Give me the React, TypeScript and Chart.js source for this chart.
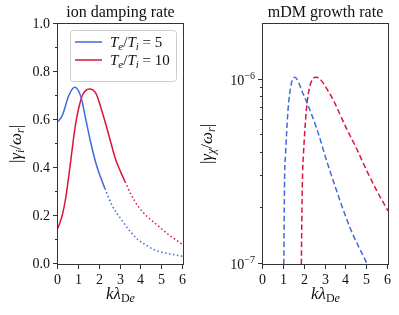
import React, { useEffect, useRef } from 'react';
import { Chart, registerables } from 'chart.js';

Chart.register(...registerables);

const FONT = '"Liberation Serif", "Times New Roman", serif';
const BLUE = '#4169e1';
const RED = '#dc143c';
const FRAME = '#333333';

// ---- left panel: ion damping rate |gamma_i / omega_r| ----
const blueSolidK = [0, 0.21, 0.53, 0.8, 1.1, 1.34, 1.58, 1.82, 2.05, 2.25];
const blueSolidG = [0.593, 0.62, 0.704, 0.736, 0.697, 0.6, 0.503, 0.42, 0.36, 0.315];
const blueDotK = [2.25, 2.6, 3.06, 3.5, 3.86, 4.3, 4.66, 5.3, 6.0];
const blueDotG = [0.315, 0.243, 0.183, 0.132, 0.1, 0.075, 0.058, 0.043, 0.032];
const redSolidK = [0, 0.21, 0.37, 0.53, 0.69, 0.85, 1.01, 1.18, 1.5, 1.82, 2.14, 2.46, 2.75, 3.0, 3.22];
const redSolidG = [0.149, 0.205, 0.275, 0.375, 0.485, 0.586, 0.655, 0.704, 0.729, 0.711, 0.628, 0.53, 0.44, 0.385, 0.343];
const redDotK = [3.22, 3.5, 3.86, 4.25, 4.66, 5.3, 6.0];
const redDotG = [0.343, 0.29, 0.239, 0.2, 0.17, 0.123, 0.08];

// ---- right panel: mDM growth rate |gamma_chi / omega_r| ----
const blueDashK = [1.0, 1.02, 1.04, 1.08, 1.2, 1.36, 1.52, 1.92, 2.56, 3.1, 4.16, 5.0];
const blueDashG = [1e-7, 2.0e-7, 3.1e-7, 3.9e-7, 6.8e-7, 9.5e-7, 1.03e-6, 8.4e-7, 5.5e-7, 3.5e-7, 1.59e-7, 1e-7];
const redDashK = [1.84, 1.87, 1.9, 1.94, 2.08, 2.24, 2.56, 3.2, 4.0, 4.5, 5.0, 5.5, 6.0];
const redDashG = [1e-7, 2.0e-7, 3.1e-7, 3.9e-7, 6.8e-7, 9.1e-7, 1.03e-6, 8.4e-7, 5.45e-7, 4.2e-7, 3.17e-7, 2.45e-7, 1.94e-7];

const xTicks = [0, 1, 2, 3, 4, 5, 6];
const leftYMajor = [0, 0.2, 0.4, 0.6, 0.8, 1.0];
const leftYMinor = [0.1, 0.3, 0.5, 0.7, 0.9];
const leftYLabels = ['0.0', '0.2', '0.4', '0.6', '0.8', '1.0'];
const rightYMajor = [1e-7, 1e-6];
const rightYExp = ['\u22127', '\u22126'];
const rightYMinor = [2e-7, 3e-7, 4e-7, 5e-7, 6e-7, 7e-7, 8e-7, 9e-7];

const legendLabels = [
  { color: BLUE, value: '5' },
  { color: RED, value: '10' },
];

type Seg = { t: string; it?: boolean; s: number; dy?: number };

function segFont(g: Seg) {
  return `${g.it ? 'italic ' : ''}${g.s}px ${FONT}`;
}

function drawRich(ctx: CanvasRenderingContext2D, segs: Seg[], x: number, y: number, align: 'left' | 'center' | 'right') {
  let total = 0;
  const widths = segs.map((g) => {
    ctx.font = segFont(g);
    const w = ctx.measureText(g.t).width;
    total += w;
    return w;
  });
  let cx = align === 'left' ? x : align === 'center' ? x - total / 2 : x - total;
  ctx.textAlign = 'left';
  ctx.textBaseline = 'alphabetic';
  segs.forEach((g, i) => {
    ctx.font = segFont(g);
    ctx.fillText(g.t, cx, y + (g.dy || 0));
    cx += widths[i];
  });
}

function pts(k: number[], g: number[]) {
  return k.map((v, i) => ({ x: v, y: g[i] }));
}

function drawFrameAndXAxis(chart: any, title: string) {
  const { ctx, chartArea, scales } = chart;
  const { left, right, top, bottom } = chartArea;
  ctx.save();
  ctx.strokeStyle = FRAME;
  ctx.lineWidth = 1;
  ctx.strokeRect(Math.round(left) - 0.5, Math.round(top) - 0.5, Math.round(right - left) + 1, Math.round(bottom - top) + 1);
  ctx.fillStyle = '#111';
  xTicks.forEach((v) => {
    const px = Math.round(scales.x.getPixelForValue(v)) - 0.5;
    ctx.beginPath();
    ctx.moveTo(px, bottom + 0.5);
    ctx.lineTo(px, bottom + 5);
    ctx.stroke();
    ctx.font = `14px ${FONT}`;
    ctx.textAlign = 'center';
    ctx.textBaseline = 'alphabetic';
    ctx.fillText(String(v), px, bottom + 20);
  });
  const cx = (left + right) / 2;
  drawRich(ctx, [
    { t: 'k', it: true, s: 17 },
    { t: '\u03bb', it: true, s: 17 },
    { t: 'D', s: 12, dy: 3 },
    { t: 'e', it: true, s: 12, dy: 3 },
  ], cx, bottom + 35, 'center');
  ctx.font = `16px ${FONT}`;
  ctx.textAlign = 'center';
  ctx.textBaseline = 'alphabetic';
  ctx.fillText(title, cx, top - 7);
  ctx.restore();
}

function drawYLabel(ctx: CanvasRenderingContext2D, segs: Seg[], x: number, y: number) {
  ctx.save();
  ctx.translate(x, y);
  ctx.rotate(-Math.PI / 2);
  drawRich(ctx, segs, 0, 0, 'center');
  ctx.restore();
}

const leftDecor = {
  id: 'leftDecor',
  afterDraw(chart: any) {
    const { ctx, chartArea, scales } = chart;
    const { left, top, bottom } = chartArea;
    drawFrameAndXAxis(chart, 'ion damping rate');
    ctx.save();
    ctx.strokeStyle = FRAME;
    ctx.fillStyle = '#111';
    ctx.lineWidth = 1;
    leftYMajor.forEach((v, i) => {
      const py = Math.round(scales.y.getPixelForValue(v)) - 0.5;
      ctx.beginPath();
      ctx.moveTo(left - 0.5, py);
      ctx.lineTo(left - 5, py);
      ctx.stroke();
      ctx.font = `14px ${FONT}`;
      ctx.textAlign = 'right';
      ctx.textBaseline = 'middle';
      ctx.fillText(leftYLabels[i], left - 8, py + 1);
    });
    leftYMinor.forEach((v) => {
      const py = Math.round(scales.y.getPixelForValue(v)) - 0.5;
      ctx.beginPath();
      ctx.moveTo(left - 0.5, py);
      ctx.lineTo(left - 3, py);
      ctx.stroke();
    });
    drawYLabel(ctx, [
      { t: '|', s: 17 },
      { t: '\u03b3', it: true, s: 17 },
      { t: 'i', it: true, s: 12, dy: 3 },
      { t: '/', s: 17 },
      { t: '\u03c9', it: true, s: 17 },
      { t: 'r', it: true, s: 12, dy: 3 },
      { t: '|', s: 17 },
    ], 21, (top + bottom) / 2);

    const lx = 70.5, ly = 30.5, lw = 106, lh = 51, r = 3;
    ctx.beginPath();
    ctx.moveTo(lx + r, ly);
    ctx.lineTo(lx + lw - r, ly);
    ctx.arcTo(lx + lw, ly, lx + lw, ly + r, r);
    ctx.lineTo(lx + lw, ly + lh - r);
    ctx.arcTo(lx + lw, ly + lh, lx + lw - r, ly + lh, r);
    ctx.lineTo(lx + r, ly + lh);
    ctx.arcTo(lx, ly + lh, lx, ly + lh - r, r);
    ctx.lineTo(lx, ly + r);
    ctx.arcTo(lx, ly, lx + r, ly, r);
    ctx.closePath();
    ctx.fillStyle = 'rgba(255,255,255,0.8)';
    ctx.fill();
    ctx.strokeStyle = '#cccccc';
    ctx.stroke();
    legendLabels.forEach((L, i) => {
      const yy = 42 + i * 18;
      ctx.strokeStyle = L.color;
      ctx.lineWidth = 1.5;
      ctx.beginPath();
      ctx.moveTo(75, yy);
      ctx.lineTo(102, yy);
      ctx.stroke();
      ctx.fillStyle = '#111';
      drawRich(ctx, [
        { t: 'T', it: true, s: 15 },
        { t: 'e', it: true, s: 11, dy: 2.5 },
        { t: '/', s: 15 },
        { t: 'T', it: true, s: 15 },
        { t: 'i', it: true, s: 11, dy: 2.5 },
        { t: ' = ' + L.value, s: 15 },
      ], 110, yy + 5, 'left');
    });
    ctx.restore();
  },
};

const rightDecor = {
  id: 'rightDecor',
  afterDraw(chart: any) {
    const { ctx, chartArea, scales } = chart;
    const { left, top, bottom } = chartArea;
    drawFrameAndXAxis(chart, 'mDM growth rate');
    ctx.save();
    ctx.strokeStyle = FRAME;
    ctx.fillStyle = '#111';
    ctx.lineWidth = 1;
    rightYMajor.forEach((v, i) => {
      const py = Math.round(scales.y.getPixelForValue(v)) - 0.5;
      ctx.beginPath();
      ctx.moveTo(left - 0.5, py);
      ctx.lineTo(left - 5, py);
      ctx.stroke();
      drawRich(ctx, [
        { t: '10', s: 14 },
        { t: rightYExp[i], s: 10, dy: -6 },
      ], left - 8, py + 5, 'right');
    });
    rightYMinor.forEach((v) => {
      const py = Math.round(scales.y.getPixelForValue(v)) - 0.5;
      ctx.beginPath();
      ctx.moveTo(left - 0.5, py);
      ctx.lineTo(left - 3, py);
      ctx.stroke();
    });
    drawYLabel(ctx, [
      { t: '|', s: 17 },
      { t: '\u03b3', it: true, s: 17 },
      { t: '\u03c7', it: true, s: 12, dy: 3 },
      { t: '/', s: 17 },
      { t: '\u03c9', it: true, s: 17 },
      { t: 'r', it: true, s: 12, dy: 3 },
      { t: '|', s: 17 },
    ], 12, (top + bottom) / 2);
    ctx.restore();
  },
};

function lineDs(k: number[], g: number[], color: string, dash: number[]) {
  return {
    data: pts(k, g),
    borderColor: color,
    borderWidth: 1.5,
    borderDash: dash,
    pointRadius: 0,
    fill: false,
    cubicInterpolationMode: 'monotone' as const,
  };
}

export default function App() {
  const leftRef = useRef<HTMLCanvasElement>(null);
  const rightRef = useRef<HTMLCanvasElement>(null);

  useEffect(() => {
    const left = new Chart(leftRef.current!, {
      type: 'line',
      data: {
        datasets: [
          lineDs(blueSolidK, blueSolidG, BLUE, []),
          lineDs(blueDotK, blueDotG, BLUE, [1.5, 2.5]),
          lineDs(redSolidK, redSolidG, RED, []),
          lineDs(redDotK, redDotG, RED, [1.5, 2.5]),
        ] as any,
      },
      options: {
        animation: false,
        responsive: false,
        events: [],
        layout: { padding: { left: 58, top: 24, right: 17, bottom: 51 } },
        scales: {
          x: { type: 'linear', min: 0, max: 6, display: false },
          y: { type: 'linear', min: 0, max: 1, display: false },
        },
        plugins: { legend: { display: false }, tooltip: { enabled: false } },
      },
      plugins: [leftDecor],
    });
    const right = new Chart(rightRef.current!, {
      type: 'line',
      data: {
        datasets: [
          lineDs(blueDashK, blueDashG, BLUE, [5.5, 3]),
          lineDs(redDashK, redDashG, RED, [5.5, 3]),
        ] as any,
      },
      options: {
        animation: false,
        responsive: false,
        events: [],
        layout: { padding: { left: 63, top: 24, right: 11, bottom: 51 } },
        scales: {
          x: { type: 'linear', min: 0, max: 6, display: false },
          y: { type: 'logarithmic', min: 1e-7, max: 2e-6, display: false },
        },
        plugins: { legend: { display: false }, tooltip: { enabled: false } },
      },
      plugins: [rightDecor],
    });
    return () => {
      left.destroy();
      right.destroy();
    };
  }, []);

  return (
    <div style={{ position: 'absolute', left: 0, top: 0, width: 399, height: 315, background: '#fff' }}>
      <canvas ref={leftRef} width={200} height={315} style={{ position: 'absolute', left: 0, top: 0, width: 200, height: 315 }} />
      <canvas ref={rightRef} width={199} height={315} style={{ position: 'absolute', left: 200, top: 0, width: 199, height: 315 }} />
    </div>
  );
}
